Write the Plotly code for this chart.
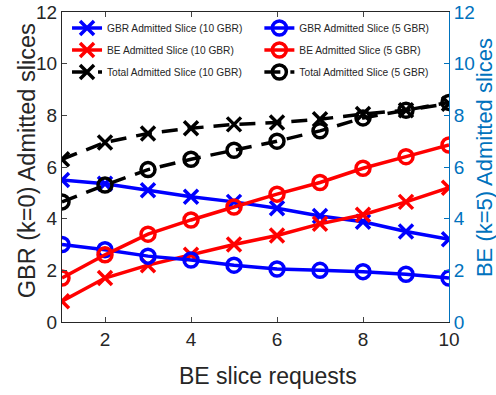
import plotly.graph_objects as go

x = [1, 2, 3, 4, 5, 6, 7, 8, 9, 10]
gbr_10 = [5.5, 5.35, 5.1, 4.85, 4.65, 4.4, 4.1, 3.88, 3.5, 3.2]
be_10 = [0.8, 1.7, 2.2, 2.6, 3.0, 3.35, 3.8, 4.15, 4.65, 5.2]
tot_10 = [6.3, 6.95, 7.3, 7.5, 7.65, 7.72, 7.85, 8.05, 8.2, 8.45]
gbr_5 = [3.0, 2.8, 2.55, 2.4, 2.2, 2.05, 2.0, 1.95, 1.85, 1.7]
be_5 = [1.7, 2.6, 3.4, 3.95, 4.45, 4.95, 5.4, 5.95, 6.4, 6.85]
tot_5 = [4.65, 5.3, 5.9, 6.3, 6.65, 7.0, 7.4, 7.9, 8.2, 8.5]

series = [
    ("GBR Admitted Slice (10 GBR)", gbr_10, "#0000FF", "x-thin-open", "solid", "legend"),
    ("BE Admitted Slice (10 GBR)", be_10, "#FF0000", "x-thin-open", "solid", "legend"),
    ("Total Admitted Slice (10 GBR)", tot_10, "#000000", "x-thin-open", "16px,10px", "legend"),
    ("GBR Admitted Slice (5 GBR)", gbr_5, "#0000FF", "circle-open", "solid", "legend2"),
    ("BE Admitted Slice (5 GBR)", be_5, "#FF0000", "circle-open", "solid", "legend2"),
    ("Total Admitted Slice (5 GBR)", tot_5, "#000000", "circle-open", "16px,10px", "legend2"),
]

fig = go.Figure()
for i, (name, ys, col, sym, dash, lg) in enumerate(series):
    fig.add_trace(go.Scatter(
        x=x, y=ys, name=name, mode="lines+markers", legend=lg, legendgroup="g%d" % i,
        line=dict(color=col, width=3.5, dash=dash),
        marker=dict(symbol=sym, size=14, color=col, line=dict(color=col, width=3.5)),
    ))

fig.add_trace(go.Scatter(x=[1], y=[0], yaxis="y2", showlegend=False,
                         mode="markers", marker=dict(opacity=0), hoverinfo="skip"))

font_family = "Liberation Sans, Arial, sans-serif"
blue_axis = "#0072BD"
dark = "#262626"
legend_common = dict(orientation="v", yanchor="top", xanchor="left",
                     bgcolor="rgba(255,255,255,0)", font=dict(size=10.2, color=dark),
                     itemwidth=30, tracegroupgap=3)
fig.update_layout(
    width=496, height=395,
    margin=dict(l=62, r=47, t=12, b=73, autoexpand=False),
    plot_bgcolor="white", paper_bgcolor="white",
    font=dict(family=font_family, color=dark),
    xaxis=dict(range=[1, 10], tickvals=[2, 4, 6, 8, 10], ticks="inside", ticklen=5,
               showline=True, linecolor=dark, linewidth=1, mirror="ticks",
               showgrid=False, zeroline=False, tickfont=dict(size=19), automargin=False),
    yaxis=dict(range=[0, 12], tickvals=[0, 2, 4, 6, 8, 10, 12], ticks="inside", ticklen=5,
               showline=True, linecolor=dark, linewidth=1, automargin=False,
               showgrid=False, zeroline=False, tickfont=dict(size=19)),
    yaxis2=dict(range=[0, 12], tickvals=[0, 2, 4, 6, 8, 10, 12], ticks="inside", ticklen=5,
                overlaying="y", side="right", showline=True, linecolor=blue_axis, linewidth=1,
                tickcolor=blue_axis, showgrid=False, zeroline=False, automargin=False,
                tickfont=dict(size=19, color=blue_axis)),
    legend=dict(x=0.013, y=0.995, **legend_common),
    legend2=dict(x=0.51, y=0.995, **legend_common),
    annotations=[
        dict(text="BE (k=5) Admitted slices", xref="paper", yref="paper",
             x=1.0904, y=0.532, xanchor="center", yanchor="middle", textangle=-90,
             showarrow=False, font=dict(size=22, color=blue_axis)),
        dict(text="GBR (k=0) Admitted slices", xref="paper", yref="paper",
             x=-0.092, y=0.52, xanchor="center", yanchor="middle", textangle=-90,
             showarrow=False, font=dict(size=23.5, color=dark)),
        dict(text="BE slice requests", xref="paper", yref="paper",
             x=0.532, y=-0.174, xanchor="center", yanchor="middle",
             showarrow=False, font=dict(size=23, color=dark)),
    ],
)

fig.write_html("out.html", config={"displayModeBar": False},
               post_script="document.body.style.margin='0';")
